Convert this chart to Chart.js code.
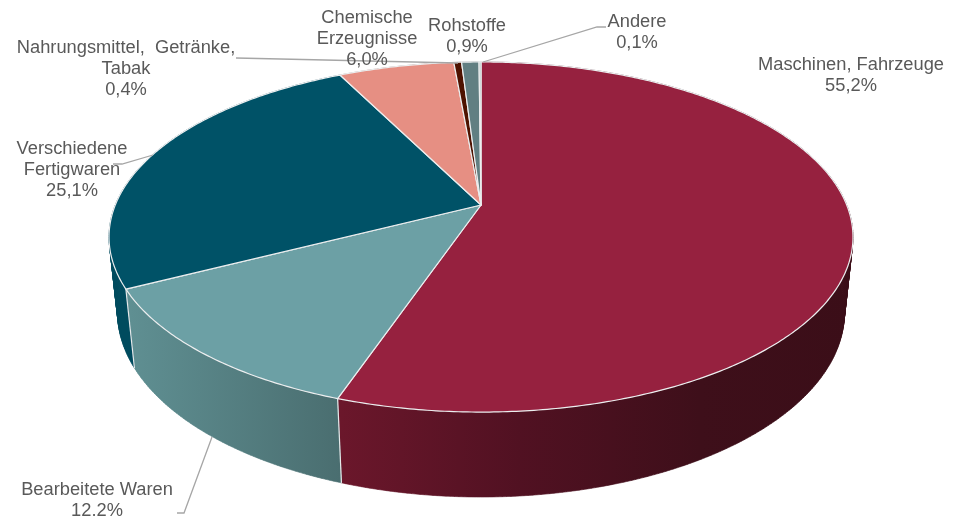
<!DOCTYPE html>
<html lang="de">
<head>
<meta charset="UTF-8">
<title>Pie</title>
<script src="https://cdn.jsdelivr.net/npm/chart.js"></script>
<style>
  html, body { margin: 0; padding: 0; background: #fff; }
  canvas { display: block; }
</style>
</head>
<body>
<canvas id="grafico" width="961" height="516"></canvas>
<script>
const categories = ['Maschinen, Fahrzeuge', 'Bearbeitete Waren', 'Verschiedene Fertigwaren', 'Chemische Erzeugnisse', 'Nahrungsmittel, Getränke, Tabak', 'Rohstoffe', 'Andere'];
const shares = [55.2, 12.2, 25.1, 6.0, 0.4, 0.9, 0.1];
const topColors = ['#96213f', '#6ca0a5', '#005267', '#e68f83', '#4e1200', '#617f82', '#a9bcbe'];

// wall gradient per slice, [x, colour]
const wallStops = [
  [[340, '#6b172b'], [520, '#511122'], [700, '#3e0f1a'], [850, '#3b0e18']],
  [[130, '#5f8f92'], [340, '#4a6e70']],
  [[110, '#004b5e'], [340, '#004b5e']],
  [[340, '#8a564e'], [480, '#8a564e']],
  [[450, '#2e0a00'], [470, '#2e0a00']],
  [[460, '#3a4c4e'], [480, '#3a4c4e']],
  [[480, '#667072'], [482, '#667072']]
];

// label text, one entry per line
const labelLines = [
  ['Maschinen, Fahrzeuge', '55,2%'],
  ['Bearbeitete Waren', '12.2%'],
  ['Verschiedene', 'Fertigwaren', '25,1%'],
  ['Chemische', 'Erzeugnisse', '6,0%'],
  ['Nahrungsmittel,  Getränke,', 'Tabak', '0,4%'],
  ['Rohstoffe', '0,9%'],
  ['Andere', '0,1%']
];
const labelAt = [[851, 65], [97, 490], [72, 149], [367, 18], [126, 48], [467, 26], [637, 22]];
const leaders = [
  [[177, 513], [184, 513], [212, 437]],
  [[113, 164], [122, 164], [153, 155]],
  [[236, 58], [458, 63]],
  [[606, 27], [597, 27], [483, 62]]
];

// perspective of the disc: apex, half axes, tilt
const apexX = 481, apexY = 205, axisX = 365.7, axisY = 169.2, tilt = 0.1829;
// thickness of the disc in the same perspective
const depthY = 76, depthW = 0.0226;

function project(a, dy, dw) {
  const u = Math.cos(a), v = Math.sin(a), w = 1 - tilt * v + dw;
  return [apexX + axisX * u / w, apexY + (axisY * v + dy) / w];
}
function topPoint(a) {
  return project(a, 0, 0);
}
function lowPoint(a) {
  return project(a, depthY, depthW);
}
function arcPoints(fn, start, end) {
  const n = Math.max(2, Math.ceil((end - start) / 0.01));
  const pts = [];
  for (let i = 0; i <= n; i++) pts.push(fn(start + (end - start) * i / n));
  return pts;
}
function tracePath(ctx, pts) {
  pts.forEach((p, i) => i ? ctx.lineTo(p[0], p[1]) : ctx.moveTo(p[0], p[1]));
}

const pie3d = {
  id: 'pie3d',
  beforeDatasetDraw(chart) {
    const ctx = chart.ctx;
    const arcs = chart.getDatasetMeta(0).data;
    ctx.save();
    ctx.lineJoin = 'round';

    // walls, small strips so the side silhouette gets filled
    arcs.forEach((arc, i) => {
      const upper = arcPoints(topPoint, arc.startAngle, arc.endAngle);
      const lower = arcPoints(lowPoint, arc.startAngle, arc.endAngle);
      const stops = wallStops[i];
      const first = stops[0][0], last = stops[stops.length - 1][0];
      const grad = ctx.createLinearGradient(first, 0, last, 0);
      stops.forEach(s => grad.addColorStop((s[0] - first) / (last - first), s[1]));
      ctx.fillStyle = grad;
      ctx.strokeStyle = grad;
      ctx.lineWidth = 0.6;
      ctx.beginPath();
      for (let k = 0; k < upper.length - 1; k++) {
        tracePath(ctx, [upper[k], upper[k + 1], lower[k + 1], lower[k], upper[k]]);
      }
      ctx.fill('nonzero');
      ctx.stroke();
    });

    // wall edges of the front slices
    ctx.strokeStyle = '#e6e9ea';
    ctx.lineWidth = 1.2;
    [arcs[0].endAngle, arcs[1].endAngle].forEach(a => {
      ctx.beginPath();
      tracePath(ctx, [topPoint(a), lowPoint(a)]);
      ctx.stroke();
    });

    // top faces
    arcs.forEach((arc, i) => {
      ctx.beginPath();
      tracePath(ctx, [[apexX, apexY]].concat(arcPoints(topPoint, arc.startAngle, arc.endAngle)));
      ctx.closePath();
      ctx.fillStyle = topColors[i];
      ctx.fill();
      ctx.strokeStyle = '#eceeef';
      ctx.lineWidth = 1.2;
      ctx.stroke();
    });
    ctx.restore();
    return false;
  },
  afterDraw(chart) {
    const ctx = chart.ctx;
    ctx.save();
    ctx.strokeStyle = '#a6a6a6';
    ctx.lineWidth = 1.3;
    leaders.forEach(line => {
      ctx.beginPath();
      tracePath(ctx, line);
      ctx.stroke();
    });
    ctx.fillStyle = '#595959';
    ctx.font = '18.3px "Liberation Sans"';
    ctx.textAlign = 'center';
    ctx.textBaseline = 'middle';
    labelLines.forEach((lines, i) => {
      lines.forEach((t, j) => ctx.fillText(t, labelAt[i][0], labelAt[i][1] + j * 21));
    });
    ctx.restore();
  }
};

new Chart(document.getElementById('grafico'), {
  type: 'pie',
  data: {
    labels: categories,
    datasets: [{ data: shares, backgroundColor: topColors, borderWidth: 0 }]
  },
  options: {
    responsive: false,
    animation: false,
    plugins: { legend: { display: false }, tooltip: { enabled: false } }
  },
  plugins: [pie3d]
});
</script>
</body>
</html>
